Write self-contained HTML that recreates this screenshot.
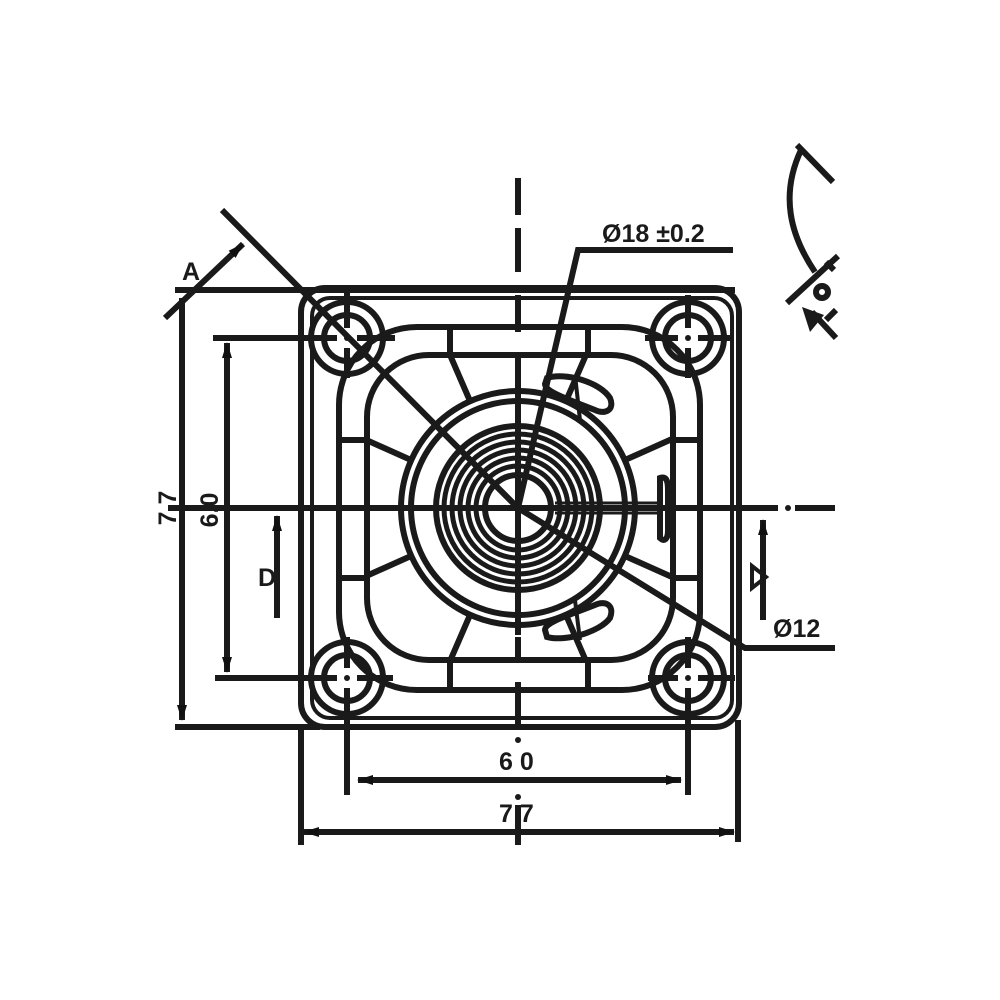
<!DOCTYPE html>
<html><head><style>body{margin:0;background:#fff}svg{display:block}</style></head>
<body>
<svg width="1000" height="1000" viewBox="0 0 1000 1000" xmlns="http://www.w3.org/2000/svg">
<defs>
<clipPath id="cin"><rect x="367" y="355" width="306" height="305" rx="62"/></clipPath>
<marker id="ar" markerWidth="16" markerHeight="12" refX="15" refY="6" orient="auto-start-reverse" markerUnits="userSpaceOnUse"><path d="M0,1 L16,6 L0,11z" fill="#111"/></marker>
</defs>
<g fill="none" stroke="#1a1a1a" stroke-width="6">
<rect x="301" y="288" width="438" height="439" rx="24"/>
<rect x="312" y="298" width="420" height="420" rx="18" stroke-width="4"/>
<line x1="175" y1="290" x2="735" y2="290"/>
<line x1="175" y1="727" x2="320" y2="727"/>
<rect x="339" y="327" width="361" height="363" rx="78"/>
<rect x="367" y="355" width="306" height="305" rx="62"/>
<line x1="450" y1="327" x2="450" y2="355"/><line x1="588" y1="327" x2="588" y2="355"/>
<line x1="450" y1="660" x2="450" y2="690"/><line x1="588" y1="660" x2="588" y2="690"/>
<line x1="339" y1="440" x2="367" y2="440"/><line x1="339" y1="578" x2="367" y2="578"/>
<line x1="673" y1="440" x2="700" y2="440"/><line x1="673" y1="578" x2="700" y2="578"/>
<g clip-path="url(#cin)">
<line x1="470" y1="401" x2="437" y2="325"/>
<line x1="566" y1="401" x2="599" y2="325"/>
<line x1="470" y1="615" x2="437" y2="691"/>
<line x1="566" y1="615" x2="599" y2="691"/>
<line x1="411" y1="460" x2="335" y2="426"/>
<line x1="411" y1="556" x2="335" y2="590"/>
<line x1="625" y1="460" x2="701" y2="426"/>
<line x1="625" y1="556" x2="701" y2="590"/>
</g>
<circle cx="518" cy="508" r="117"/>
<circle cx="518" cy="508" r="107"/>
<circle cx="518" cy="508" r="82"/>
<circle cx="518" cy="508" r="74" stroke-width="5"/>
<circle cx="518" cy="508" r="66" stroke-width="5"/>
<circle cx="518" cy="508" r="58" stroke-width="5"/>
<circle cx="518" cy="508" r="50" stroke-width="5"/>
<circle cx="518" cy="508" r="42" stroke-width="5"/>
<circle cx="518" cy="508" r="33"/>
<path d="M547,378 C565,372 600,382 610,398 C615,410 605,415 595,410 C570,400 545,392 545,384 Z"/>
<path d="M547,637 C565,642 600,632 610,618 C615,605 605,600 595,605 C570,615 545,622 545,630 Z"/>
<path d="M660,478 C666,476 668,480 668,490 L668,530 C668,540 664,542 660,538 Z"/>
<line x1="555" y1="503" x2="660" y2="503" stroke-width="3"/>
<line x1="555" y1="513" x2="660" y2="513" stroke-width="3"/>
<line x1="575" y1="375" x2="580" y2="420" stroke-width="4"/>
<line x1="575" y1="600" x2="580" y2="640" stroke-width="4"/>
<circle cx="347" cy="338" r="36"/><circle cx="347" cy="338" r="23"/>
<circle cx="688" cy="338" r="36"/><circle cx="688" cy="338" r="23"/>
<circle cx="347" cy="678" r="36"/><circle cx="347" cy="678" r="23"/>
<circle cx="688" cy="678" r="36"/><circle cx="688" cy="678" r="23"/>
<g>
<line x1="327" y1="338" x2="337" y2="338"/><line x1="357" y1="338" x2="395" y2="338"/><line x1="347" y1="293" x2="347" y2="328"/><line x1="347" y1="348" x2="347" y2="378"/>
<line x1="645" y1="338" x2="678" y2="338"/><line x1="698" y1="338" x2="733" y2="338"/><line x1="688" y1="295" x2="688" y2="328"/><line x1="688" y1="348" x2="688" y2="378"/>
<line x1="215" y1="678" x2="337" y2="678"/><line x1="357" y1="678" x2="393" y2="678"/><line x1="347" y1="637" x2="347" y2="668"/><line x1="347" y1="688" x2="347" y2="795"/>
<line x1="648" y1="678" x2="678" y2="678"/><line x1="698" y1="678" x2="735" y2="678"/><line x1="688" y1="637" x2="688" y2="668"/><line x1="688" y1="688" x2="688" y2="795"/>
<line x1="213" y1="338" x2="322" y2="338"/>
</g>
<line x1="518" y1="178" x2="518" y2="215"/>
<line x1="518" y1="228" x2="518" y2="272"/>
<line x1="518" y1="295" x2="518" y2="332"/>
<line x1="518" y1="355" x2="518" y2="635"/>
<line x1="518" y1="637" x2="518" y2="660"/>
<line x1="518" y1="682" x2="518" y2="730"/>
<line x1="518" y1="805" x2="518" y2="845"/>
<line x1="168" y1="508" x2="778" y2="508"/>
<line x1="795" y1="508" x2="835" y2="508"/>
<polyline points="222,210 518,508 745,648 835,648"/>
<polyline points="518,508 578,250 733,250"/>
<line x1="165" y1="318" x2="243" y2="244" marker-end="url(#ar)"/>
<line x1="182" y1="298" x2="182" y2="720" marker-end="url(#ar)"/>
<line x1="227" y1="343" x2="227" y2="672" marker-start="url(#ar)" marker-end="url(#ar)"/>
<line x1="277" y1="618" x2="277" y2="516" marker-end="url(#ar)"/>
<line x1="763" y1="620" x2="763" y2="520" marker-end="url(#ar)"/>
<line x1="358" y1="780" x2="681" y2="780" marker-start="url(#ar)" marker-end="url(#ar)"/>
<line x1="304" y1="832" x2="734" y2="832" marker-start="url(#ar)" marker-end="url(#ar)"/>
<line x1="301" y1="727" x2="301" y2="845"/>
<line x1="738" y1="720" x2="738" y2="842"/>
<path d="M801,150 C780,195 790,235 815,272"/>
<line x1="797" y1="145" x2="833" y2="182"/>
<line x1="787" y1="303" x2="838" y2="256"/>
<line x1="826" y1="262" x2="834" y2="270"/>
<circle cx="822" cy="292" r="6"/>
<line x1="812" y1="312" x2="836" y2="338"/>
<line x1="826" y1="320" x2="836" y2="310"/>
</g>
<path d="M802,307 L824,315 L810,332 Z" fill="#1a1a1a"/>
<circle cx="347" cy="338" r="3" fill="#1a1a1a"/><circle cx="688" cy="338" r="3" fill="#1a1a1a"/>
<circle cx="347" cy="678" r="3" fill="#1a1a1a"/><circle cx="688" cy="678" r="3" fill="#1a1a1a"/>
<circle cx="518" cy="740" r="3" fill="#1a1a1a"/>
<circle cx="518" cy="797" r="3" fill="#1a1a1a"/>
<circle cx="788" cy="508" r="3" fill="#1a1a1a"/>
<path d="M752,566 L752,588 L766,577 Z" fill="none" stroke="#1a1a1a" stroke-width="4"/>
<g font-family="Liberation Sans, sans-serif" font-weight="bold" font-size="25" fill="#1a1a1a">
<text x="182" y="280">A</text>
<text x="602" y="242">Ø18  ±0.2</text>
<text x="773" y="637">Ø12</text>
<text x="258" y="586">D</text>
<text x="499" y="770">6 0</text>
<text x="499" y="822">7 7</text>
<text transform="translate(176,508) rotate(-90)" text-anchor="middle">7 7</text>
<text transform="translate(218,510) rotate(-90)" text-anchor="middle">6.0</text>
</g>
</svg>
</body></html>
